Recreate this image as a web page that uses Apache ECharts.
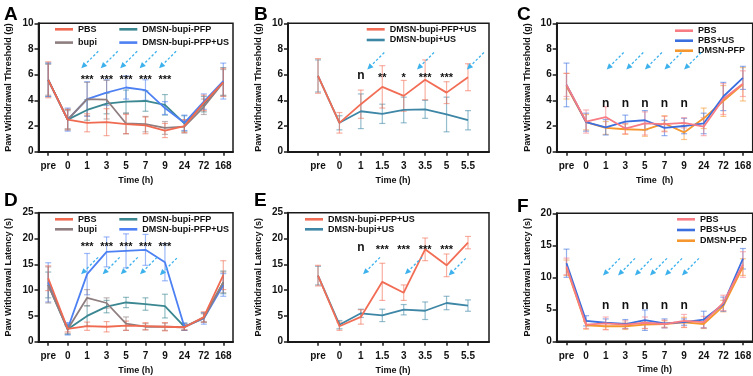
<!DOCTYPE html>
<html>
<head>
<meta charset="utf-8">
<script src="https://cdn.jsdelivr.net/npm/echarts@6/dist/echarts.min.js"></script>
<style>
html, body { margin: 0; background: #fff; }
#chart { width: 753px; height: 376px; }
</style>
</head>
<body>
<div id="chart"></div>
<script>
// categories
const timeLong = ['pre', '0', '1', '3', '5', '7', '9', '24', '72', '168'];
const timeShort = ['pre', '0', '1', '1.5', '3', '3.5', '5', '5.5'];

// A - mechanical threshold (g)
const aPBS = [5.6, 2.5, 2.25, 2.3, 2.15, 2.05, 1.65, 2.0, 3.8, 5.4];
const aPBSsd = [1.4, 0.8, 0.7, 1.05, 0.75, 0.65, 0.55, 0.5, 0.6, 1.1];
const aBupi = [5.6, 2.5, 4.1, 4.05, 2.2, 2.15, 1.85, 1.95, 3.5, 5.4];
const aBupiSd = [1.2, 0.7, 1.3, 1.5, 0.8, 0.6, 0.5, 0.5, 0.6, 1.0];
const aPFP = [5.6, 2.5, 3.25, 3.75, 3.9, 3.95, 3.65, 2.2, 3.7, 5.45];
const aPFPsd = [1.3, 0.8, 0.8, 0.8, 0.9, 0.8, 0.8, 0.6, 0.6, 1.1];
const aPFPUS = [5.6, 2.5, 4.1, 4.6, 5.0, 4.8, 3.4, 2.25, 3.9, 5.5];
const aPFPUSsd = [1.3, 0.9, 1.35, 1.0, 0.9, 0.8, 0.5, 0.6, 0.6, 1.4];

// B
const bPFPUS = [5.9, 2.25, 3.7, 5.05, 4.35, 5.6, 4.6, 5.8];
const bPFPUSsd = [1.35, 0.8, 1.1, 1.65, 1.2, 1.55, 0.85, 1.05];
const bBupiUS = [5.9, 2.25, 3.15, 2.95, 3.25, 3.3, 2.9, 2.45];
const bBupiUSsd = [1.25, 0.55, 1.35, 0.75, 1.0, 0.7, 1.35, 0.75];

// C
const cPBS = [5.2, 2.35, 2.7, 1.8, 2.2, 2.15, 2.25, 1.95, 4.1, 5.3];
const cPBSsd = [0.9, 0.9, 0.8, 0.4, 0.9, 0.6, 0.4, 0.7, 1.2, 1.0];
const cPBSUS = [5.2, 2.3, 1.9, 2.35, 2.45, 1.85, 2.0, 2.2, 4.3, 5.75];
const cPBSUSsd = [1.7, 0.7, 0.6, 0.5, 0.75, 0.6, 0.6, 0.8, 1.1, 0.9];
const cPFP = [5.1, 2.3, 1.85, 1.75, 1.7, 2.2, 1.5, 2.6, 3.95, 5.25];
const cPFPsd = [1.0, 0.6, 0.5, 0.4, 0.5, 0.6, 0.55, 0.8, 1.2, 1.3];

// D - thermal latency (s)
const dPBS = [12.3, 2.5, 3.0, 2.9, 3.1, 3.0, 2.9, 2.8, 4.8, 12.9];
const dPBSsd = [2.4, 0.6, 0.8, 1.0, 0.9, 0.7, 0.8, 0.5, 1.0, 2.8];
const dBupi = [11.0, 2.4, 8.5, 7.5, 3.5, 2.9, 2.9, 2.8, 4.6, 11.5];
const dBupiSd = [3.5, 0.8, 1.6, 1.0, 1.3, 0.6, 0.7, 0.6, 0.8, 2.0];
const dPFP = [11.0, 2.4, 5.0, 6.8, 7.6, 7.3, 6.9, 2.9, 4.7, 11.5];
const dPFPsd = [2.5, 1.0, 2.0, 1.2, 1.0, 1.2, 2.3, 0.7, 0.9, 2.2];
const dPFPUS = [11.5, 2.5, 13.1, 17.4, 17.6, 17.8, 15.4, 2.9, 4.5, 11.0];
const dPFPUSsd = [3.8, 1.2, 4.0, 2.9, 3.3, 3.0, 3.6, 0.7, 1.1, 2.2];

// E
const ePFPUS = [12.8, 3.0, 4.8, 11.6, 9.5, 17.9, 14.8, 19.2];
const ePFPUSsd = [2.0, 0.8, 1.4, 3.6, 1.5, 2.2, 2.2, 1.2];
const eBupiUS = [12.8, 3.3, 5.5, 5.1, 6.2, 6.0, 7.5, 7.0];
const eBupiUSsd = [1.8, 0.8, 0.8, 1.2, 1.0, 1.7, 1.3, 1.1];

// F
const fPBS = [11.7, 2.6, 2.8, 2.6, 2.9, 2.7, 3.2, 3.0, 6.0, 12.0];
const fPBSsd = [1.3, 0.6, 1.0, 0.6, 0.9, 0.6, 1.0, 0.9, 1.2, 2.0];
const fPBSUS = [12.2, 3.2, 2.9, 2.7, 3.3, 2.8, 3.0, 3.4, 5.8, 12.9];
const fPBSUSsd = [2.2, 0.8, 0.6, 0.7, 1.6, 0.7, 0.5, 1.3, 1.1, 1.6];
const fPFP = [11.5, 2.5, 2.35, 2.35, 2.6, 2.7, 2.95, 2.7, 5.5, 11.6];
const fPFPsd = [1.2, 0.6, 0.5, 0.5, 0.6, 0.5, 0.8, 0.7, 0.9, 1.3];

// significance marks: [category index, y, text]
const sigA = [[2, 5.6, '***'], [3, 5.6, '***'], [4, 5.6, '***'], [5, 5.6, '***'], [6, 5.6, '***']];
const sigB = [[2, 5.9, 'n'], [3, 5.75, '**'], [4, 5.75, '*'], [5, 5.75, '***'], [6, 5.75, '***']];
const sigC = [[2, 3.77, 'n'], [3, 3.77, 'n'], [4, 3.77, 'n'], [5, 3.77, 'n'], [6, 3.77, 'n']];
const sigD = [[2, 18.3, '***'], [3, 18.3, '***'], [4, 18.3, '***'], [5, 18.3, '***'], [6, 18.3, '***']];
const sigE = [[2, 18.2, 'n'], [3, 17.8, '***'], [4, 17.8, '***'], [5, 17.8, '***'], [6, 17.8, '***']];
const sigF = [[2, 5.64, 'n'], [3, 5.64, 'n'], [4, 5.64, 'n'], [5, 5.64, 'n'], [6, 5.64, 'n']];

// ultrasound arrows: arrow head at [category position, y]
const usA = [[1.7, 6.5], [2.7, 6.5], [3.7, 6.5], [4.7, 6.5], [5.7, 6.5]];
const usB = [[2.3, 6.4], [4.62, 6.4], [6.95, 6.4]];
const usC = [[2.05, 6.4], [3.05, 6.4], [4.0, 6.4], [5.0, 6.4], [6.0, 6.4]];
const usD = [[1.69, 13.05], [2.8, 13.05], [3.73, 13.05], [4.72, 13.05], [5.74, 12.9]];
const usE = [[2.1, 13.05], [4.06, 13.05], [6.1, 12.85]];
const usF = [[1.86, 10.3], [2.63, 10.3], [3.49, 10.3], [4.26, 10.3], [5.03, 10.3], [5.89, 10.3]];

const FONT = '"Liberation Sans", Arial, Helvetica, sans-serif';
const INK = '#1a1a1a';
const ARROW = '#3cb1ec';
const ARROW_DX = 17, ARROW_DY = 17;

const RED = '#ef6a51', GREY = '#8f7e80', TEAL = '#3b8791', BLUE = '#4d80f3';
const RED2 = '#f26d55', TEAL2 = '#3e86a6';
const PINK = '#f77c84', BLUE2 = '#3b6fdf', ORANGE = '#f5962e';

const grids = [], xAxes = [], yAxes = [], series = [], legends = [], titles = [];

function fade(hex, a) {
  const n = parseInt(hex.slice(1), 16);
  return 'rgba(' + (n >> 16) + ',' + ((n >> 8) & 255) + ',' + (n & 255) + ',' + a + ')';
}

function errorBars(color) {
  return function (params, api) {
    const i = api.value(0), m = api.value(1), sd = api.value(2);
    const hi = api.coord([i, m + sd]), lo = api.coord([i, m - sd]);
    const w = 3, st = {stroke: color, lineWidth: 1.2};
    return {type: 'group', children: [
      {type: 'line', shape: {x1: hi[0], y1: hi[1], x2: lo[0], y2: lo[1]}, style: st},
      {type: 'line', shape: {x1: hi[0] - w, y1: hi[1], x2: hi[0] + w, y2: hi[1]}, style: st},
      {type: 'line', shape: {x1: lo[0] - w, y1: lo[1], x2: lo[0] + w, y2: lo[1]}, style: st}
    ]};
  };
}

// category axes round fractional values, so interpolate between two slots
function arrowItem(params, api) {
  const i = api.value(0), y = api.value(1), f = api.value(2);
  const a = api.coord([i, y]), b = api.coord([i + 1, y]);
  const hx = a[0] + f * (b[0] - a[0]), hy = a[1];
  const len = Math.hypot(ARROW_DX, ARROW_DY);
  const ux = ARROW_DX / len, uy = -ARROW_DY / len;
  const hl = 6, hw = 2.8;
  const bx = hx + ux * hl, by = hy + uy * hl;
  return {type: 'group', children: [
    {type: 'line', shape: {x1: hx + ARROW_DX, y1: hy - ARROW_DY, x2: bx, y2: by},
      style: {stroke: ARROW, lineWidth: 1.3, lineDash: [2.5, 2]}},
    {type: 'polygon', shape: {points: [[hx, hy], [bx - uy * hw, by + ux * hw], [bx + uy * hw, by - ux * hw]]},
      style: {fill: ARROW}}
  ]};
}

function sigItem(marks) {
  return function (params, api) {
    const m = marks[params.dataIndex];
    const p = api.coord([m[0], m[1]]);
    return {type: 'text', x: p[0], y: p[1], style: {
      text: m[2], fill: '#111', align: 'center', verticalAlign: 'middle',
      font: 'bold ' + (m[2] === 'n' ? 12 : 11) + 'px ' + FONT
    }};
  };
}

const tickText = {fontSize: 10, fontWeight: 'bold', fontFamily: FONT, color: '#111'};
const nameText = {fontSize: 9, fontWeight: 'bold', fontFamily: FONT, color: '#111'};

function addPanel(p) {
  const g = grids.length;
  grids.push({left: p.left, top: p.top, width: p.width, height: p.height, show: true,
    borderColor: INK, borderWidth: 1.5, outerBoundsMode: 'none'});
  yAxes.push({gridIndex: g, type: 'value', min: 0, max: p.yMax, interval: p.yStep,
    name: p.yName, nameLocation: 'middle', nameGap: 25, nameTextStyle: nameText,
    axisLine: {show: true, lineStyle: {color: INK, width: 2}},
    axisTick: {show: true, length: 4, lineStyle: {color: INK, width: 1.5}},
    axisLabel: Object.assign({margin: 5}, tickText), splitLine: {show: false}});
  let dg = g;
  if (p.dataLeft != null) {
    // frame grid carries the full-width bottom line, data grid carries the categories
    xAxes.push({gridIndex: g, type: 'value', min: 0, max: 1,
      axisLine: {show: true, lineStyle: {color: INK, width: 2}},
      axisTick: {show: false}, axisLabel: {show: false}, splitLine: {show: false}});
    dg = grids.length;
    grids.push({left: p.dataLeft, top: p.top, width: p.dataWidth, height: p.height, outerBoundsMode: 'none'});
    yAxes.push({gridIndex: dg, type: 'value', min: 0, max: p.yMax, show: false});
  }
  xAxes.push({gridIndex: dg, type: 'category', data: p.cats, boundaryGap: true,
    name: p.xName, nameLocation: 'middle', nameGap: 24, nameTextStyle: nameText,
    axisLine: {show: dg === g, lineStyle: {color: INK, width: 2}},
    axisTick: {show: true, alignWithLabel: true, interval: 0, length: 4, lineStyle: {color: INK, width: 1.5}},
    axisLabel: Object.assign({interval: 0, margin: 10}, tickText), splitLine: {show: false}});
  const xi = xAxes.length - 1, yi = yAxes.length - 1;

  p.lines.forEach(function (l) {
    series.push({type: 'custom', xAxisIndex: xi, yAxisIndex: yi, silent: true, z: 2,
      renderItem: errorBars(fade(l.color, 0.55)),
      data: l.values.map(function (v, i) { return [i, v, l.sd[i]]; })});
  });
  p.lines.forEach(function (l) {
    series.push({type: 'line', name: l.name, xAxisIndex: xi, yAxisIndex: yi, data: l.values,
      symbol: 'none', silent: true, z: 3,
      lineStyle: {color: l.color, width: 1.8}, itemStyle: {color: l.color}});
  });
  series.push({type: 'custom', xAxisIndex: xi, yAxisIndex: yi, silent: true, z: 4,
    renderItem: arrowItem,
    data: p.arrows.map(function (a) { const i = Math.floor(a[0]); return [i, a[1], a[0] - i]; })});
  series.push({type: 'custom', xAxisIndex: xi, yAxisIndex: yi, silent: true, z: 5,
    renderItem: sigItem(p.sig),
    data: p.sig.map(function (m) { return [m[0], m[1]]; })});

  p.legend.forEach(function (lg) {
    legends.push({left: lg.left, top: lg.top, orient: 'vertical', icon: 'rect',
      itemWidth: 18, itemHeight: 2.6, itemGap: lg.gap, padding: 0, selectedMode: false,
      textStyle: nameText,
      data: lg.names.map(function (n) {
        const l = p.lines.find(function (x) { return x.name === n; });
        return {name: n, itemStyle: {color: l.color}};
      })});
  });

  titles.push({text: p.letter, left: p.letterLeft, top: p.letterTop, padding: 0,
    textStyle: {fontSize: 19, fontWeight: 'bold', fontFamily: FONT, color: '#000'}});
}

const thr = 'Paw Withdrawal Threshold (g)';
const lat = 'Paw Withdrawal Latency (s)';

addPanel({letter: 'A', letterLeft: 4, letterTop: 5,
  left: 38.5, top: 23.3, width: 194.5, height: 128.4,
  yMax: 10, yStep: 2, yName: thr, xName: 'Time (h)', cats: timeLong,
  lines: [
    {name: 'DMSN-bupi-PFP', color: TEAL, values: aPFP, sd: aPFPsd},
    {name: 'DMSN-bupi-PFP+US', color: BLUE, values: aPFPUS, sd: aPFPUSsd},
    {name: 'bupi', color: GREY, values: aBupi, sd: aBupiSd},
    {name: 'PBS', color: RED, values: aPBS, sd: aPBSsd}
  ],
  legend: [
    {left: 55, top: 24.8, gap: 4.3, names: ['PBS', 'bupi']},
    {left: 119.3, top: 24.8, gap: 4.3, names: ['DMSN-bupi-PFP', 'DMSN-bupi-PFP+US']}
  ],
  sig: sigA, arrows: usA});

addPanel({letter: 'B', letterLeft: 254, letterTop: 5,
  left: 288, top: 23.3, width: 201, height: 128.4, dataLeft: 307.3, dataWidth: 171.4,
  yMax: 10, yStep: 2, yName: thr, xName: 'Time (h)', cats: timeShort,
  lines: [
    {name: 'DMSN-bupi+US', color: TEAL2, values: bBupiUS, sd: bBupiUSsd},
    {name: 'DMSN-bupi-PFP+US', color: RED2, values: bPFPUS, sd: bPFPUSsd}
  ],
  legend: [{left: 366.7, top: 24.8, gap: 1.7, names: ['DMSN-bupi-PFP+US', 'DMSN-bupi+US']}],
  sig: sigB, arrows: usB});

addPanel({letter: 'C', letterLeft: 517, letterTop: 5,
  left: 556.7, top: 23.3, width: 196, height: 128.4,
  yMax: 10, yStep: 2, yName: thr, xName: 'Time  (h)', cats: timeLong,
  lines: [
    {name: 'DMSN-PFP', color: ORANGE, values: cPFP, sd: cPFPsd},
    {name: 'PBS+US', color: BLUE2, values: cPBSUS, sd: cPBSUSsd},
    {name: 'PBS', color: PINK, values: cPBS, sd: cPBSsd}
  ],
  legend: [{left: 675, top: 26.2, gap: 1, names: ['PBS', 'PBS+US', 'DMSN-PFP']}],
  sig: sigC, arrows: usC});

addPanel({letter: 'D', letterLeft: 4, letterTop: 191,
  left: 38.5, top: 212.7, width: 194.5, height: 129,
  yMax: 25, yStep: 5, yName: lat, xName: 'Time (h)', cats: timeLong,
  lines: [
    {name: 'DMSN-bupi-PFP', color: TEAL, values: dPFP, sd: dPFPsd},
    {name: 'DMSN-bupi-PFP+US', color: BLUE, values: dPFPUS, sd: dPFPUSsd},
    {name: 'bupi', color: GREY, values: dBupi, sd: dBupiSd},
    {name: 'PBS', color: RED, values: dPBS, sd: dPBSsd}
  ],
  legend: [
    {left: 55, top: 214.8, gap: 1, names: ['PBS', 'bupi']},
    {left: 119.3, top: 214.8, gap: 1, names: ['DMSN-bupi-PFP', 'DMSN-bupi-PFP+US']}
  ],
  sig: sigD, arrows: usD});

addPanel({letter: 'E', letterLeft: 254, letterTop: 191,
  left: 288, top: 212.7, width: 201, height: 129, dataLeft: 307.3, dataWidth: 171.4,
  yMax: 25, yStep: 5, yName: lat, xName: 'Time (h)', cats: timeShort,
  lines: [
    {name: 'DMSN-bupi+US', color: TEAL2, values: eBupiUS, sd: eBupiUSsd},
    {name: 'DMSN-bupi-PFP+US', color: RED2, values: ePFPUS, sd: ePFPUSsd}
  ],
  legend: [{left: 305, top: 214.8, gap: 1, names: ['DMSN-bupi-PFP+US', 'DMSN-bupi+US']}],
  sig: sigE, arrows: usE});

addPanel({letter: 'F', letterLeft: 517, letterTop: 197,
  left: 556.7, top: 213.3, width: 196, height: 128,
  yMax: 20, yStep: 5, yName: lat, xName: 'Time (h)', cats: timeLong,
  lines: [
    {name: 'DMSN-PFP', color: ORANGE, values: fPFP, sd: fPFPsd},
    {name: 'PBS+US', color: BLUE2, values: fPBSUS, sd: fPBSUSsd},
    {name: 'PBS', color: PINK, values: fPBS, sd: fPBSsd}
  ],
  legend: [{left: 677, top: 214.8, gap: 1.7, names: ['PBS', 'PBS+US', 'DMSN-PFP']}],
  sig: sigF, arrows: usF});

const chart = echarts.init(document.getElementById('chart'), null, {renderer: 'canvas'});
chart.setOption({
  animation: false,
  backgroundColor: '#fff',
  title: titles,
  legend: legends,
  grid: grids,
  xAxis: xAxes,
  yAxis: yAxes,
  series: series
});
</script>
</body>
</html>
